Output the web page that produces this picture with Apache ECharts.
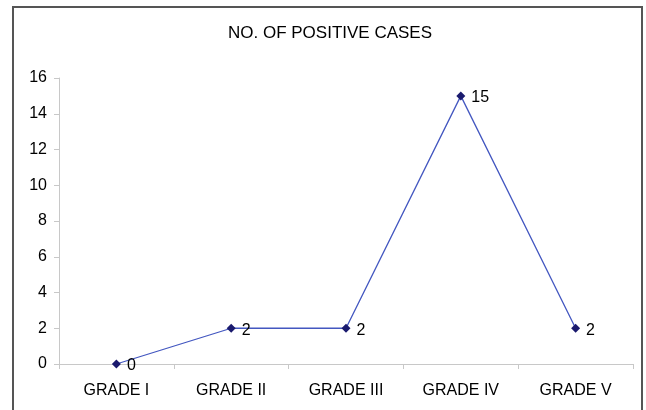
<!DOCTYPE html>
<html>
<head>
<meta charset="utf-8">
<script src="https://cdn.jsdelivr.net/npm/echarts@6/dist/echarts.min.js"></script>
<style>
  html, body { margin: 0; padding: 0; background: #fff; }
  #main { width: 646px; height: 410px; }
</style>
</head>
<body>
<div id="main"></div>
<script>
// data
var grades = ['GRADE I', 'GRADE II', 'GRADE III', 'GRADE IV', 'GRADE V'];
var positiveCases = [0, 2, 2, 15, 2];

var myChart = echarts.init(document.getElementById('main'));

var option = {
    backgroundColor: '#fff',
    animation: false,
    title: {
        text: 'NO. OF POSITIVE CASES',
        left: 325,
        top: 20,
        textAlign: 'center',
        textStyle: {
            fontFamily: 'Liberation Sans',
            fontSize: 17,
            fontWeight: 'normal',
            color: '#000'
        }
    },
    // outer frame
    graphic: [{
        type: 'rect',
        shape: { x: 13, y: 7, width: 629, height: 430 },
        style: { fill: 'none', stroke: '#555', lineWidth: 2 }
    }],
    grid: {
        left: 59,
        right: 13,
        top: 78,
        bottom: 46
    },
    xAxis: {
        type: 'category',
        data: grades,
        axisLine: { lineStyle: { color: '#c8c8c8' } },
        axisTick: { show: true, length: 5, lineStyle: { color: '#c8c8c8' } },
        axisLabel: {
            color: '#000',
            fontFamily: 'Liberation Sans',
            fontSize: 16,
            margin: 19
        },
        splitLine: { show: false }
    },
    yAxis: {
        type: 'value',
        min: 0,
        max: 16,
        interval: 2,
        axisLine: { show: true, lineStyle: { color: '#c8c8c8' } },
        axisTick: { show: true, length: 5, lineStyle: { color: '#c8c8c8' } },
        axisLabel: {
            color: '#000',
            fontFamily: 'Liberation Sans',
            fontSize: 16,
            margin: 12
        },
        splitLine: { show: false }
    },
    series: [{
        name: 'NO. OF POSITIVE CASES',
        type: 'line',
        data: positiveCases,
        symbol: 'diamond',
        symbolSize: 9,
        itemStyle: { color: '#1a1a6e' },
        lineStyle: { color: '#4357c0', width: 1.3 },
        label: {
            show: true,
            position: 'right',
            distance: 6,
            offset: [0, 2],
            color: '#000',
            fontFamily: 'Liberation Sans',
            fontSize: 16
        }
    }]
};

myChart.setOption(option);
</script>
</body>
</html>
